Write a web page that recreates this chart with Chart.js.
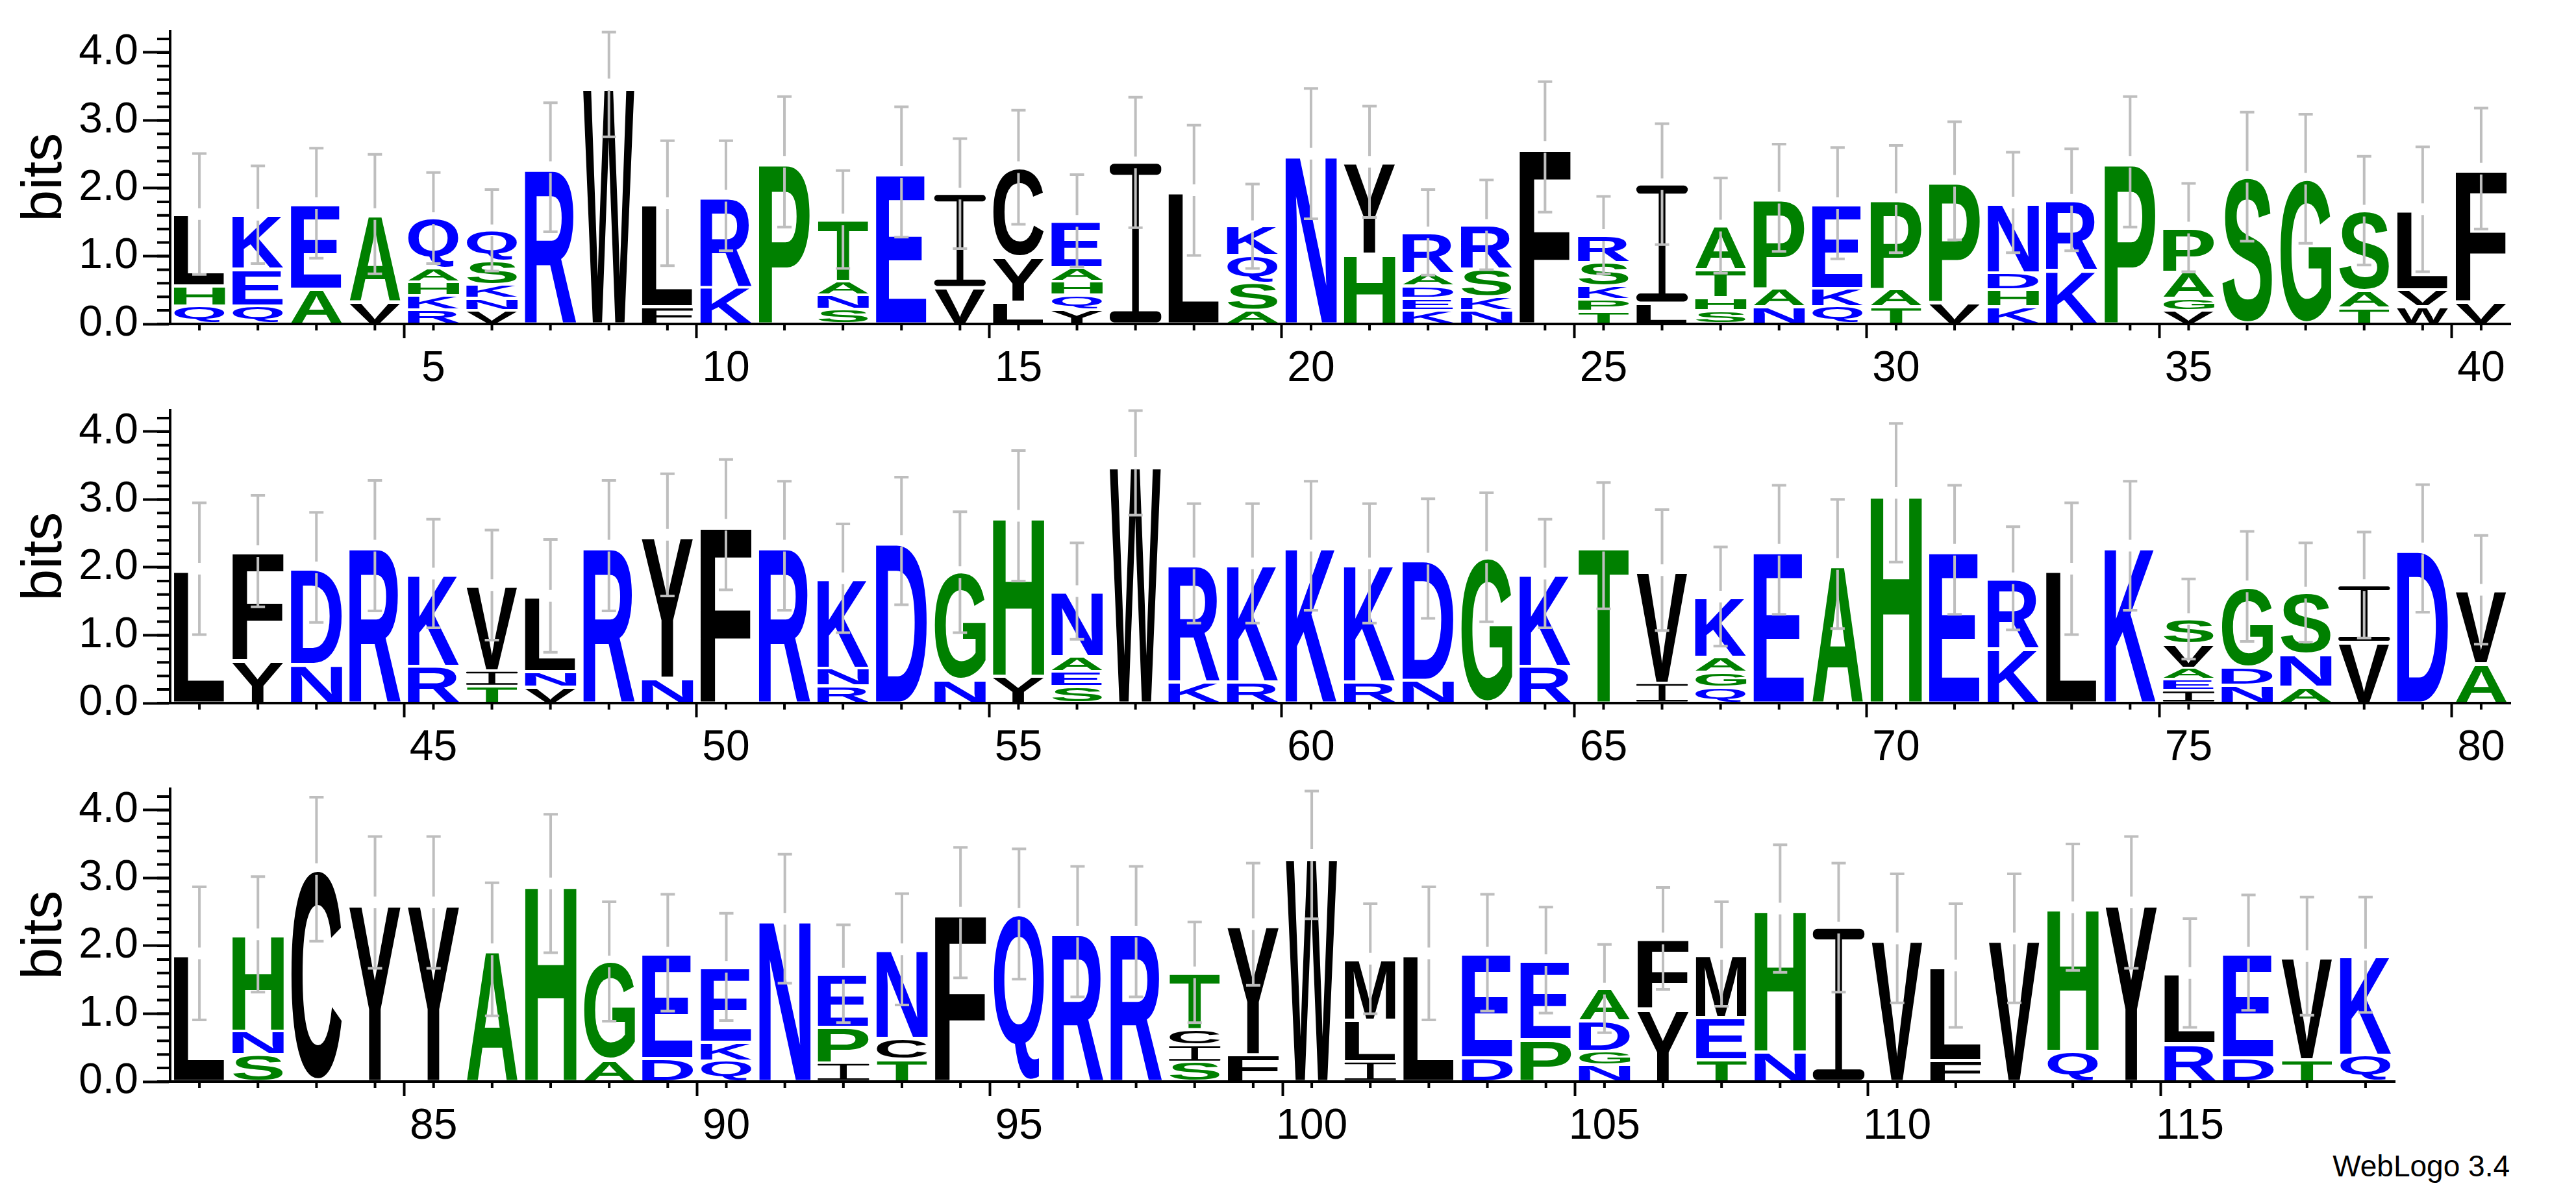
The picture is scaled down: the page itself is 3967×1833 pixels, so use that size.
<!DOCTYPE html>
<html>
<head>
<meta charset="utf-8">
<title>WebLogo</title>
<script src="https://cdn.jsdelivr.net/npm/chart.js@4.4.1/dist/chart.umd.min.js"></script>
<style>
  html, body { margin: 0; padding: 0; background: #fff; }
  body { width: 3967px; height: 1833px; position: relative; overflow: hidden; }
  canvas { position: absolute; left: 0; }
  #credit { position: absolute; right: 102px; top: 1773px; font: 46px 'Liberation Sans', Arial, sans-serif; line-height: 1; color: #000; }
</style>
</head>
<body>
<canvas id="row0" width="3967" height="600" style="top:0px"></canvas>
<canvas id="row1" width="3967" height="600" style="top:584px"></canvas>
<canvas id="row2" width="3967" height="600" style="top:1167px"></canvas>
<div id="credit">WebLogo 3.4</div>
<script>
"use strict";

/* residues of every column, listed bottom to top */
const letters = [
    'QHL', 'QEK', 'AE', 'VA', 'RKHAQ', 'VNKSQ', 'R', 'W', 'FL', 'KR',
    'P', 'SNAT', 'E', 'VI', 'LYC', 'YQHAE', 'I', 'L', 'ASQK', 'N',
    'HY', 'KEDAR', 'NKSR', 'F', 'TPKSR', 'LI', 'SHTA', 'NAP', 'QKE', 'TAP',
    'VP', 'KHDN', 'KR', 'P', 'VGAP', 'S', 'G', 'TAS', 'WVL', 'VF',
    'L', 'YF', 'ND', 'R', 'RK', 'TIV', 'VNL', 'R', 'NY', 'F',
    'R', 'RNK', 'D', 'NG', 'YH', 'SEAN', 'W', 'KR', 'RK', 'K',
    'RK', 'ND', 'G', 'RK', 'T', 'IV', 'QGAK', 'E', 'A', 'H',
    'E', 'KR', 'L', 'K', 'IEAVS', 'NDG', 'ANS', 'VI', 'D', 'AV',
    'L', 'SNH', 'C', 'Y', 'Y', 'A', 'H', 'AG', 'DE', 'QKE',
    'N', 'IPE', 'TCN', 'F', 'Q', 'R', 'R', 'SICT', 'FY', 'W',
    'ILM', 'L', 'DE', 'PE', 'NGDA', 'YF', 'TEM', 'NH', 'I', 'V',
    'FL', 'V', 'QH', 'Y', 'RL', 'DE', 'TV', 'QK'
];

/* height of each residue in bits, same order as letters */
const bits = [
    [0.27, 0.29, 1.06], [0.27, 0.54, 0.80], [0.52, 1.26], [0.33, 1.29], [0.21, 0.21, 0.20, 0.20, 0.74],
    [0.20, 0.18, 0.20, 0.35, 0.45], [2.31], [3.53], [0.26, 1.52], [0.55, 1.34],
    [2.39], [0.22, 0.21, 0.20, 0.91], [2.24], [0.54, 1.38], [0.33, 0.66, 1.32],
    [0.21, 0.22, 0.20, 0.20, 0.69], [2.38], [1.97], [0.20, 0.41, 0.40, 0.43], [2.51],
    [1.03, 1.36], [0.20, 0.18, 0.18, 0.19, 0.60], [0.20, 0.20, 0.41, 0.65], [2.61], [0.19, 0.17, 0.20, 0.35, 0.40],
    [0.31, 1.75], [0.20, 0.19, 0.41, 0.65], [0.26, 0.27, 1.33], [0.26, 0.27, 1.25], [0.26, 0.26, 1.32],
    [0.32, 1.79], [0.26, 0.25, 0.25, 1.03], [0.79, 1.04], [2.39], [0.20, 0.18, 0.39, 0.65],
    [2.17], [2.14], [0.24, 0.25, 1.18], [0.26, 0.25, 1.18], [0.33, 1.96],
    [1.98], [0.63, 1.61], [0.57, 1.43], [2.32], [0.55, 1.36],
    [0.25, 0.23, 1.26], [0.24, 0.23, 1.11], [2.32], [0.37, 2.11], [2.63],
    [2.32], [0.26, 0.26, 1.32], [2.39], [0.34, 1.59], [0.40, 2.36],
    [0.25, 0.22, 0.22, 0.96], [3.54], [0.32, 1.74], [0.32, 1.74], [2.32],
    [0.32, 1.74], [0.34, 1.79], [2.15], [0.55, 1.36], [2.32],
    [0.30, 1.66], [0.24, 0.22, 0.22, 0.89], [2.26], [2.05], [3.10],
    [2.26], [0.80, 1.04], [1.98], [2.32], [0.19, 0.16, 0.17, 0.35, 0.37],
    [0.27, 0.26, 1.19], [0.24, 0.48, 0.91], [0.90, 0.84], [2.28], [0.58, 1.09],
    [1.89], [0.40, 0.35, 1.42], [3.13], [2.64], [2.64],
    [1.95], [2.92], [0.32, 1.45], [0.34, 1.56], [0.31, 0.27, 1.11],
    [2.40], [0.28, 0.52, 0.79], [0.33, 0.31, 1.31], [2.49], [2.47],
    [2.21], [2.21], [0.29, 0.25, 0.23, 0.84], [0.40, 1.92], [3.34],
    [0.30, 0.61, 0.90], [1.89], [0.35, 1.55], [0.62, 1.17], [0.25, 0.20, 0.45, 0.47],
    [1.07, 1.04], [0.33, 0.62, 0.93], [0.44, 2.11], [2.27], [2.11],
    [0.32, 1.39], [2.11], [0.45, 2.12], [2.64], [0.56, 1.04],
    [0.35, 1.55], [0.33, 1.52], [0.39, 1.48]
];

/* upper end of each error bar, in bits */
const errorTop = [
    2.53, 2.35, 2.61, 2.52, 2.25, 2.00, 3.28, 4.32, 2.72, 2.72,
    3.37, 2.28, 3.22, 2.75, 3.17, 2.22, 3.36, 2.95, 2.08, 3.49,
    3.23, 2.00, 2.14, 3.59, 1.90, 2.97, 2.17, 2.67, 2.62, 2.65,
    3.00, 2.55, 2.60, 3.37, 2.09, 3.14, 3.11, 2.49, 2.63, 3.20,
    2.97, 3.08, 2.83, 3.30, 2.73, 2.57, 2.43, 3.30, 3.40, 3.61,
    3.29, 2.66, 3.35, 2.84, 3.74, 2.38, 4.33, 2.96, 2.96, 3.29,
    2.96, 3.03, 3.12, 2.73, 3.27, 2.87, 2.32, 3.23, 3.02, 4.14,
    3.23, 2.62, 2.97, 3.29, 1.85, 2.55, 2.38, 2.54, 3.24, 2.49,
    2.89, 3.04, 4.21, 3.63, 3.63, 2.95, 3.96, 2.67, 2.78, 2.50,
    3.37, 2.33, 2.79, 3.47, 3.45, 3.19, 3.19, 2.37, 3.24, 4.30,
    2.64, 2.89, 2.78, 2.59, 2.04, 2.88, 2.67, 3.51, 3.24, 3.08,
    2.64, 3.08, 3.52, 3.63, 2.42, 2.77, 2.74, 2.74
];

/* first and last position shown on each line of the logo */
const rows = [[1, 40], [41, 80], [81, 118]];
const labelEvery = 5;
const yMax = 4.32;

/* hydrophobicity colour scheme */
const colourOf = (aa) => 'RKDENQ'.includes(aa) ? '#0000ff' : ('SGHTAP'.includes(aa) ? '#008000' : '#000000');

const FONT = "'Liberation Sans', Arial, Helvetica, sans-serif";
const isWhole = (v) => Math.abs(v - Math.round(v)) < 1e-6;

/* the logo's I has bars top and bottom, which the sans font lacks */
const drawSerifI = (ctx, x, y, w, h) => {
    const bar = Math.max(2.5, h * 0.07);
    const stem = w * 0.13;
    const r = Math.min(bar / 2, 7);
    ctx.beginPath();
    ctx.roundRect(x, y, w, bar, r);
    ctx.roundRect(x, y + h - bar, w, bar, r);
    ctx.rect(x + (w - stem) / 2, y + bar / 2, stem, h - bar);
    ctx.fill();
};

/* draws the stretched letters and the error bars on top of the (invisible) stacked bars. */
const logoPlugin = {
    id: 'logo',
    afterDatasetsDraw(chart) {
        const ctx = chart.ctx;
        const yScale = chart.scales.y;
        ctx.save();
        ctx.font = `bold 300px ${FONT}`;
        ctx.textBaseline = 'alphabetic';
        ctx.textAlign = 'left';

        chart.data.datasets.forEach((ds, k) => {
            chart.getDatasetMeta(k).data.forEach((bar, i) => {
                const aa = ds.residues[i];
                if (!aa || !ds.data[i]) return;
                const left = bar.x - bar.width / 2;
                const top = Math.min(bar.y, bar.base) + 2;
                const h = Math.abs(bar.base - bar.y) - 4;
                ctx.fillStyle = colourOf(aa);
                if (aa === 'I') {
                    drawSerifI(ctx, left, top, bar.width, h);
                    return;
                }
                const m = ctx.measureText(aa);
                const gw = m.actualBoundingBoxLeft + m.actualBoundingBoxRight;
                const gh = m.actualBoundingBoxAscent + m.actualBoundingBoxDescent;
                ctx.save();
                ctx.translate(left, top);
                ctx.scale(bar.width / gw, h / gh);
                ctx.fillText(aa, m.actualBoundingBoxLeft, m.actualBoundingBoxAscent);
                ctx.restore();
            });
        });

        // error bars, centred on the stack top
        ctx.strokeStyle = '#bebebe';
        ctx.lineWidth = 4;
        ctx.lineCap = 'butt';
        chart.getDatasetMeta(0).data.forEach((bar, i) => {
            const total = chart.data.datasets.reduce((s, ds) => s + (ds.data[i] || 0), 0);
            const upper = chart.data.errors[i];
            const lower = 2 * total - upper;
            const yTop = yScale.getPixelForValue(total);
            const yUp = yScale.getPixelForValue(upper);
            const yLo = yScale.getPixelForValue(lower);
            ctx.beginPath();
            ctx.moveTo(bar.x, yUp); ctx.lineTo(bar.x, yTop - 9);
            ctx.moveTo(bar.x, yTop + 9); ctx.lineTo(bar.x, yLo);
            ctx.moveTo(bar.x - 11, yUp + 2); ctx.lineTo(bar.x + 11, yUp + 2);
            ctx.moveTo(bar.x - 11, yLo - 2); ctx.lineTo(bar.x + 11, yLo - 2);
            ctx.stroke();
        });
        ctx.restore();
    },
    /* short minor ticks on both axes */
    afterDraw(chart) {
        const { ctx, chartArea, scales: { x, y } } = chart;
        ctx.save();
        ctx.strokeStyle = '#000';
        ctx.lineWidth = 4;
        ctx.beginPath();
        x.ticks.forEach((t, i) => {
            const px = x.getPixelForTick(i);
            ctx.moveTo(px, chartArea.bottom);
            ctx.lineTo(px, chartArea.bottom + 10);
        });
        y.ticks.forEach((t, i) => {
            const py = y.getPixelForTick(i);
            ctx.moveTo(chartArea.left, py);
            ctx.lineTo(chartArea.left - 20, py);
        });
        ctx.stroke();
        ctx.restore();
    }
};

/* builds one line of the logo */
const createRow = (canvasId, first, last, rightPad) => {
    const labels = [];
    for (let p = first; p <= last; p++) labels.push(String(p));
    const depth = Math.max(...labels.map(l => letters[l - 1].length));

    const datasets = [];
    for (let k = 0; k < depth; k++) {
        datasets.push({
            data: labels.map(l => bits[l - 1][k] || 0),
            residues: labels.map(l => letters[l - 1][k] || ''),
            backgroundColor: 'rgba(0,0,0,0)',
            borderWidth: 0,
            categoryPercentage: 1,
            barPercentage: 0.88,
        });
    }

    return new Chart(document.getElementById(canvasId), {
        type: 'bar',
        data: { labels: labels, datasets: datasets, errors: labels.map(l => errorTop[l - 1]) },
        plugins: [logoPlugin],
        options: {
            responsive: false,
            animation: false,
            devicePixelRatio: 1,
            layout: { padding: { top: 47.5, right: rightPad, bottom: 0, left: 0 } },
            plugins: { legend: { display: false }, tooltip: { enabled: false } },
            scales: {
                x: {
                    stacked: true,
                    afterFit: (scale) => { scale.height = 101; },
                    border: { display: true, color: '#000', width: 4 },
                    grid: {
                        drawOnChartArea: false,
                        tickLength: 22,
                        tickWidth: 4,
                        tickColor: (c) => Number(labels[c.index]) % labelEvery === 0 ? '#000' : 'rgba(0,0,0,0)',
                    },
                    ticks: {
                        autoSkip: false,
                        maxRotation: 0,
                        padding: 8,
                        color: '#000',
                        font: { family: FONT, size: 66 },
                        callback: function (value) {
                            const label = this.getLabelForValue(value);
                            return Number(label) % labelEvery === 0 ? label : '';
                        }
                    }
                },
                y: {
                    stacked: true,
                    min: 0,
                    max: yMax,
                    afterFit: (scale) => { scale.width = 262; },
                    border: { display: true, color: '#000', width: 4 },
                    grid: {
                        drawOnChartArea: false,
                        tickLength: 42,
                        tickWidth: 4,
                        tickColor: (c) => isWhole(c.tick.value) ? '#000' : 'rgba(0,0,0,0)',
                    },
                    ticks: {
                        stepSize: 0.2,
                        autoSkip: false,
                        includeBounds: false,
                        padding: 7,
                        color: '#000',
                        font: { family: FONT, size: 66 },
                        callback: (v) => isWhole(v) ? v.toFixed(1) : '',
                    },
                    title: {
                        display: true,
                        text: 'bits',
                        color: '#000',
                        font: { family: FONT, size: 88, lineHeight: 1 },
                        padding: { top: 26, bottom: 0 },
                    }
                }
            }
        }
    });
};

createRow('row0', rows[0][0], rows[0][1], 101);
createRow('row1', rows[1][0], rows[1][1], 101);
createRow('row2', rows[2][0], rows[2][1], 279);
</script>
</body>
</html>
